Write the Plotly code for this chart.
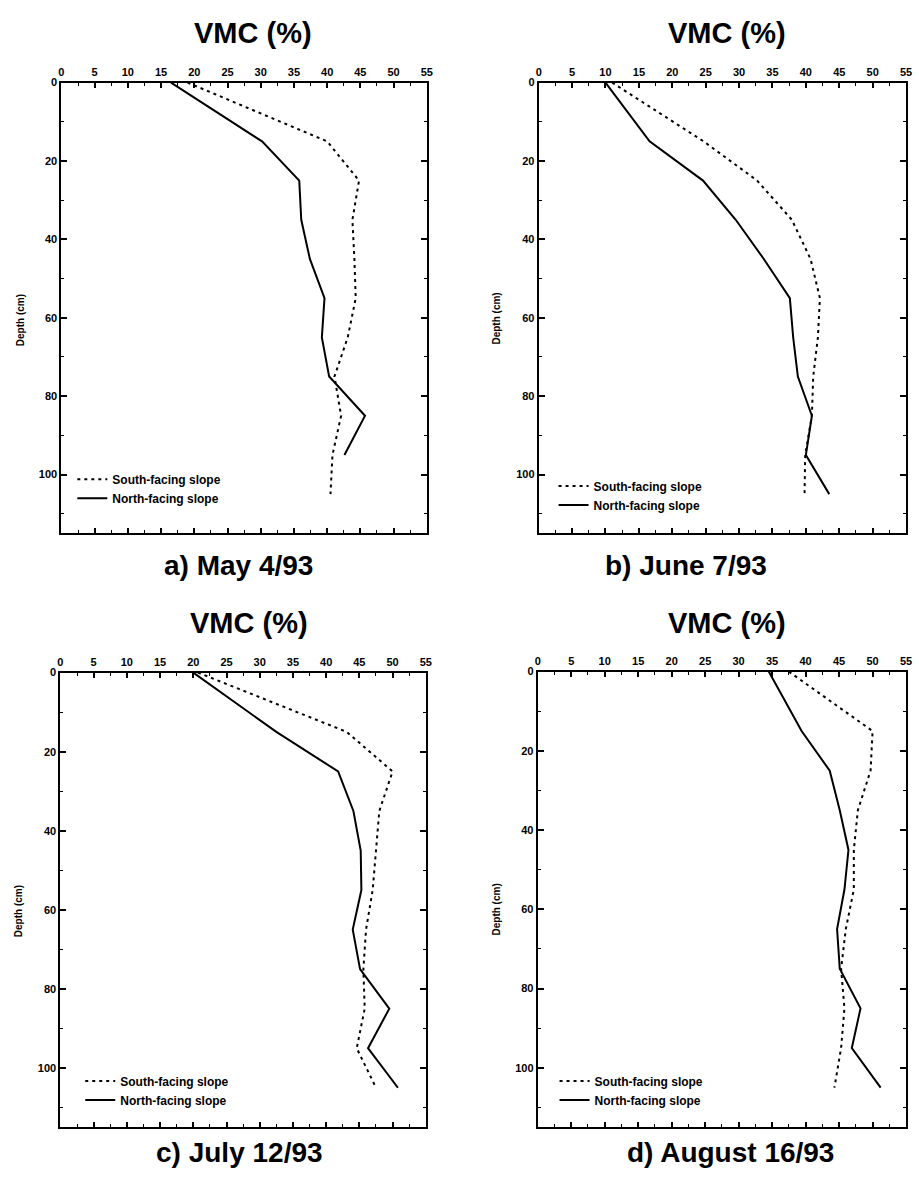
import plotly.graph_objects as go

# ---------------- data ----------------
DEPTH = [0, 15, 25, 35, 45, 55, 65, 75, 85, 95, 105]

A_SOUTH = [19.0, 40.0, 44.8, 43.8, 44.1, 44.3, 43.1, 41.1, 42.1, 40.8, 40.5]
A_NORTH = [16.5, 30.2, 35.8, 36.1, 37.4, 39.6, 39.2, 40.3, 45.7, 42.6, None]
B_SOUTH = [11.0, 24.7, 32.7, 37.9, 40.7, 42.1, 41.8, 41.1, 40.9, 39.9, 39.8]
B_NORTH = [10.0, 16.6, 24.6, 29.5, 33.7, 37.6, 38.1, 38.8, 40.9, 40.0, 43.5]
C_SOUTH = [20.7, 43.1, 50.0, 48.0, 47.5, 47.0, 46.0, 45.6, 45.8, 44.6, 47.5]
C_NORTH = [20.0, 32.5, 41.8, 44.1, 45.2, 45.3, 44.0, 45.1, 49.5, 46.3, 50.8]
D_SOUTH = [37.5, 50.0, 49.7, 47.8, 47.2, 47.2, 46.0, 45.3, 45.8, 45.3, 44.3]
D_NORTH = [34.5, 39.4, 43.6, 45.1, 46.4, 45.8, 44.7, 45.1, 48.2, 46.9, 51.2]

SERIES_NAMES = ["South-facing slope", "North-facing slope"]
CAPTIONS = ["a) May 4/93", "b) June 7/93", "c) July 12/93", "d) August 16/93"]
AXIS_TITLE_X = "VMC (%)"
AXIS_TITLE_Y = "Depth (cm)"
X_TICKS = list(range(0, 56, 5))
Y_TICKS = list(range(0, 101, 20))

PANELS = [
    (A_SOUTH, A_NORTH),
    (B_SOUTH, B_NORTH),
    (C_SOUTH, C_NORTH),
    (D_SOUTH, D_NORTH),
]

# ---------------- layout geometry (pixels) ----------------
W, H = 919, 1182
# (left, right, top, bottom) of each plot area
BOXES = [
    (59, 428, 77, 530),
    (541, 912, 77, 530),
    (58, 427, 670, 1127),
    (540, 912, 669, 1127),
]
TITLE_POS = [(252, 27), (731, 27), (248, 620), (731, 620)]
CAPTION_POS = [(238, 562), (690, 562), (239, 1152), (735, 1152)]
YTITLE_POS = [(18, 316), (498, 314), (16, 910), (498, 908)]
LEGEND_POS = [(70, 461), (556, 468), (78, 1066), (557, 1066)]

FONT = "Liberation Sans, Arial, sans-serif"


def px(x):
    return x / W


def py(y):
    return 1 - y / H


fig = go.Figure()

for i, (south, north) in enumerate(PANELS):
    n = i + 1
    xa = "x" if n == 1 else f"x{n}"
    ya = "y" if n == 1 else f"y{n}"
    lg = "legend" if n == 1 else f"legend{n}"
    fig.add_trace(go.Scatter(
        x=south, y=DEPTH, mode="lines", name=SERIES_NAMES[0],
        line=dict(color="black", width=2, dash="3px,4px"),
        xaxis=xa, yaxis=ya, legend=lg, connectgaps=False,
    ))
    fig.add_trace(go.Scatter(
        x=north, y=DEPTH, mode="lines", name=SERIES_NAMES[1],
        line=dict(color="black", width=2),
        xaxis=xa, yaxis=ya, legend=lg, connectgaps=False,
    ))

layout = dict(
    width=W, height=H,
    margin=dict(l=0, r=0, t=0, b=0),
    paper_bgcolor="white", plot_bgcolor="white",
    font=dict(family=FONT, color="black"),
    showlegend=True,
)

tickfont = dict(family=FONT, size=11, color="black", weight="bold")
annotations = []
for i, (l, r, t, b) in enumerate(BOXES):
    n = i + 1
    xk = "xaxis" if n == 1 else f"xaxis{n}"
    yk = "yaxis" if n == 1 else f"yaxis{n}"
    xa = "x" if n == 1 else f"x{n}"
    ya = "y" if n == 1 else f"y{n}"
    layout[xk] = dict(
        domain=[px(l), px(r)], anchor=ya, side="top", range=[0, 55],
        tickmode="array", tickvals=X_TICKS, ticktext=[str(v) for v in X_TICKS],
        ticks="inside", ticklen=5, tickwidth=1.5, tickcolor="black",
        minor=dict(dtick=2.5, ticks="inside", ticklen=3, tickwidth=1, tickcolor="black"),
        showline=True, linewidth=2, linecolor="black", mirror="ticks",
        showgrid=False, zeroline=False, tickfont=tickfont,
        fixedrange=True,
    )
    layout[yk] = dict(
        domain=[py(b), py(t)], anchor=xa, range=[115, 0],
        tickmode="array", tickvals=Y_TICKS, ticktext=[str(v) for v in Y_TICKS],
        ticks="inside", ticklen=6, tickwidth=1.5, tickcolor="black",
        minor=dict(dtick=10, ticks="inside", ticklen=3, tickwidth=1, tickcolor="black"),
        showline=True, linewidth=2, linecolor="black", mirror="ticks",
        showgrid=False, zeroline=False, tickfont=tickfont,
        fixedrange=True,
    )
    lk = "legend" if n == 1 else f"legend{n}"
    lx, ly = LEGEND_POS[i]
    layout[lk] = dict(
        x=px(lx), y=py(ly), xanchor="left", yanchor="top",
        bgcolor="rgba(0,0,0,0)", borderwidth=0,
        font=dict(family=FONT, size=12, color="black", weight="bold"),
        itemwidth=30, tracegroupgap=0,
    )
    tx, ty = TITLE_POS[i]
    annotations.append(dict(
        text=AXIS_TITLE_X, x=px(tx), y=py(ty), xref="paper", yref="paper",
        showarrow=False, xanchor="center", yanchor="middle",
        font=dict(family=FONT, size=29, color="black", weight="bold"),
    ))
    cx, cy = CAPTION_POS[i]
    annotations.append(dict(
        text=CAPTIONS[i], x=px(cx), y=py(cy), xref="paper", yref="paper",
        showarrow=False, xanchor="center", yanchor="middle",
        font=dict(family=FONT, size=28, color="black", weight="bold"),
    ))
    yx, yy = YTITLE_POS[i]
    annotations.append(dict(
        text=AXIS_TITLE_Y, x=px(yx), y=py(yy), xref="paper", yref="paper",
        showarrow=False, xanchor="center", yanchor="middle", textangle=-90,
        font=dict(family=FONT, size=10, color="black", weight="bold"),
    ))

layout["annotations"] = annotations
fig.update_layout(**layout)
fig.write_html("out.html")
